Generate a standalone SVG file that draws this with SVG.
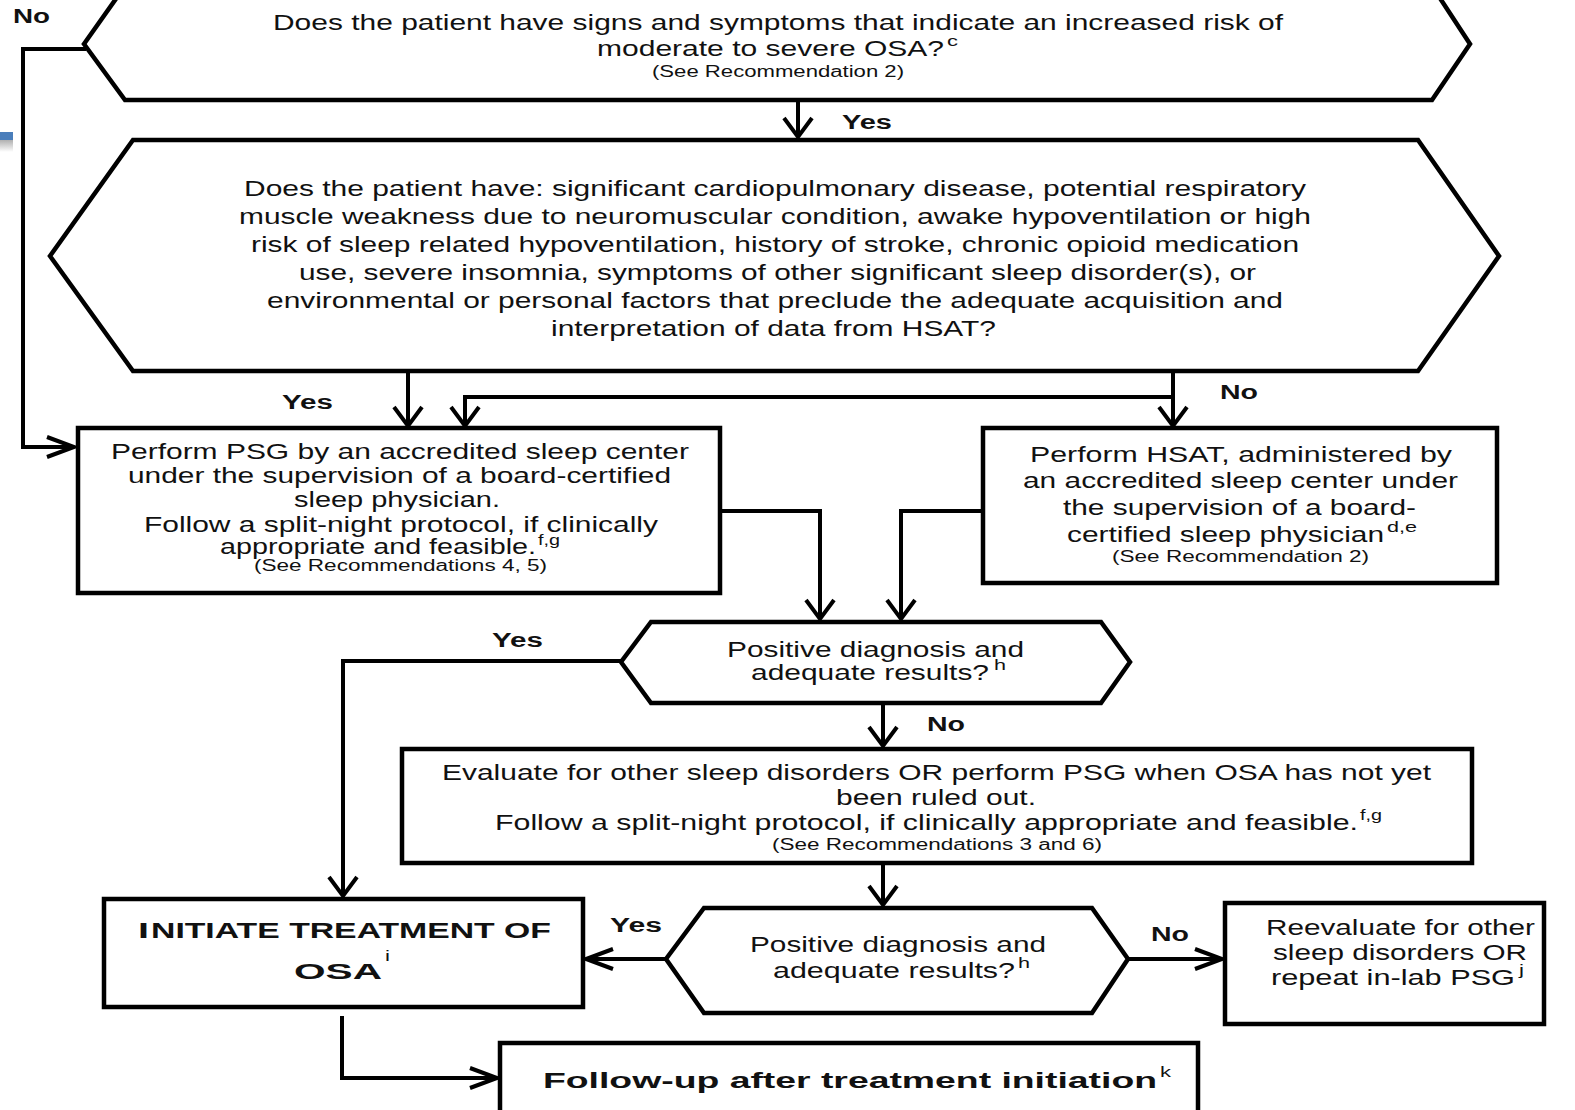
<svg xmlns="http://www.w3.org/2000/svg" width="1575" height="1110" viewBox="0 0 1575 1110">
<style>
.box{fill:#fff;stroke:#000;stroke-width:4.5;stroke-linejoin:miter}
.ln{fill:none;stroke:#000;stroke-width:4}
.t{font-family:"Liberation Sans",Arial,sans-serif;font-size:22px;fill:#111}
.s{font-size:16px}
.sup{font-size:15px}
.lbl{font-weight:bold;font-size:20px}
.b{font-weight:bold}
</style>
<defs>
<linearGradient id="gr" x1="0" y1="0" x2="0" y2="1"><stop offset="0" stop-color="#b0b0b0"/><stop offset="1" stop-color="#fff"/></linearGradient>
<marker id="av" markerUnits="userSpaceOnUse" orient="auto" refX="0" refY="0" markerWidth="40" markerHeight="40" viewBox="-35 -20 40 40" style="overflow:visible"><path d="M-19,-14 L0,0 L-19,14" fill="none" stroke="#000" stroke-width="4"/></marker>
<marker id="ah" markerUnits="userSpaceOnUse" orient="auto" refX="0" refY="0" markerWidth="40" markerHeight="40" viewBox="-35 -20 40 40" style="overflow:visible"><path d="M-27,-10 L0,0 L-27,10" fill="none" stroke="#000" stroke-width="4"/></marker>
</defs>
<rect x="0" y="0" width="1575" height="1110" fill="#fff"/>
<rect x="0" y="132" width="13" height="8" fill="#4a7ebb"/>
<rect x="0" y="140" width="13" height="12" fill="url(#gr)"/>

<g id="connectors">
<path class="ln" d="M86,49 H23 V447 H74" marker-end="url(#ah)"/>
<path class="ln" d="M798,100 V137" marker-end="url(#av)"/>
<path class="ln" d="M408,371 V426" marker-end="url(#av)"/>
<path class="ln" d="M1173,371 V426" marker-end="url(#av)"/>
<path class="ln" d="M1175,397 H465 V426" marker-end="url(#av)"/>
<path class="ln" d="M720,511 H820 V619" marker-end="url(#av)"/>
<path class="ln" d="M983,511 H901 V619" marker-end="url(#av)"/>
<path class="ln" d="M621,661 H343 V896" marker-end="url(#av)"/>
<path class="ln" d="M883,703 V746" marker-end="url(#av)"/>
<path class="ln" d="M883,863 V905" marker-end="url(#av)"/>
<path class="ln" d="M666,959 H586" marker-end="url(#ah)"/>
<path class="ln" d="M1128,959 H1222" marker-end="url(#ah)"/>
<path class="ln" d="M342,1016 V1078 H497" marker-end="url(#ah)"/>
<text class="t lbl" x="13" y="23" textLength="37" lengthAdjust="spacingAndGlyphs">No</text>
<text class="t lbl" x="842" y="129" textLength="50" lengthAdjust="spacingAndGlyphs">Yes</text>
<text class="t lbl" x="282" y="409" textLength="51" lengthAdjust="spacingAndGlyphs">Yes</text>
<text class="t lbl" x="1220" y="399" textLength="38" lengthAdjust="spacingAndGlyphs">No</text>
<text class="t lbl" x="492" y="647" textLength="51" lengthAdjust="spacingAndGlyphs">Yes</text>
<text class="t lbl" x="927" y="731" textLength="38" lengthAdjust="spacingAndGlyphs">No</text>
<text class="t lbl" x="610" y="932" textLength="52" lengthAdjust="spacingAndGlyphs">Yes</text>
<text class="t lbl" x="1151" y="941" textLength="38" lengthAdjust="spacingAndGlyphs">No</text>
</g>

<g id="q1">
<polygon class="box" points="125,-14 1432,-14 1470,44 1432,100 125,100 84,44"/>
<text class="t" x="273" y="30" textLength="1010" lengthAdjust="spacingAndGlyphs">Does the patient have signs and symptoms that indicate an increased risk of</text>
<text class="t" x="597" y="56" textLength="347" lengthAdjust="spacingAndGlyphs">moderate to severe OSA?</text>
<text class="t sup" x="947" y="46" textLength="11" lengthAdjust="spacingAndGlyphs">c</text>
<text class="t s" x="652" y="77" textLength="252" lengthAdjust="spacingAndGlyphs">(See Recommendation 2)</text>
</g>

<g id="q2">
<polygon class="box" points="133,140 1418,140 1499,256 1418,371 133,371 50,256"/>
<text class="t" x="244" y="196" textLength="1062" lengthAdjust="spacingAndGlyphs">Does the patient have: significant cardiopulmonary disease, potential respiratory</text>
<text class="t" x="239" y="224" textLength="1072" lengthAdjust="spacingAndGlyphs">muscle weakness due to neuromuscular condition, awake hypoventilation or high</text>
<text class="t" x="251" y="252" textLength="1048" lengthAdjust="spacingAndGlyphs">risk of sleep related hypoventilation, history of stroke, chronic opioid medication</text>
<text class="t" x="299" y="280" textLength="957" lengthAdjust="spacingAndGlyphs">use, severe insomnia, symptoms of other significant sleep disorder(s), or</text>
<text class="t" x="267" y="308" textLength="1016" lengthAdjust="spacingAndGlyphs">environmental or personal factors that preclude the adequate acquisition and</text>
<text class="t" x="551" y="336" textLength="445" lengthAdjust="spacingAndGlyphs">interpretation of data from HSAT?</text>
</g>

<g id="psg">
<rect class="box" x="78" y="428" width="642" height="165"/>
<text class="t" x="111" y="459" textLength="578" lengthAdjust="spacingAndGlyphs">Perform PSG by an accredited sleep center</text>
<text class="t" x="128" y="483" textLength="543" lengthAdjust="spacingAndGlyphs">under the supervision of a board-certified</text>
<text class="t" x="294" y="507" textLength="206" lengthAdjust="spacingAndGlyphs">sleep physician.</text>
<text class="t" x="144" y="532" textLength="514" lengthAdjust="spacingAndGlyphs">Follow a split-night protocol, if clinically</text>
<text class="t" x="220" y="554" textLength="316" lengthAdjust="spacingAndGlyphs">appropriate and feasible.</text>
<text class="t sup" x="538" y="545" textLength="22" lengthAdjust="spacingAndGlyphs">f,g</text>
<text class="t s" x="254" y="571" textLength="293" lengthAdjust="spacingAndGlyphs">(See Recommendations 4, 5)</text>
</g>

<g id="hsat">
<rect class="box" x="983" y="428" width="514" height="155"/>
<text class="t" x="1030" y="462" textLength="422" lengthAdjust="spacingAndGlyphs">Perform HSAT, administered by</text>
<text class="t" x="1023" y="488" textLength="435" lengthAdjust="spacingAndGlyphs">an accredited sleep center under</text>
<text class="t" x="1063" y="515" textLength="353" lengthAdjust="spacingAndGlyphs">the supervision of a board-</text>
<text class="t" x="1067" y="542" textLength="317" lengthAdjust="spacingAndGlyphs">certified sleep physician</text>
<text class="t sup" x="1387" y="532" textLength="30" lengthAdjust="spacingAndGlyphs">d,e</text>
<text class="t s" x="1112" y="562" textLength="257" lengthAdjust="spacingAndGlyphs">(See Recommendation 2)</text>
</g>

<g id="q3">
<polygon class="box" points="651,622 1101,622 1130,662 1101,703 651,703 621,662"/>
<text class="t" x="727" y="657" textLength="297" lengthAdjust="spacingAndGlyphs">Positive diagnosis and</text>
<text class="t" x="751" y="680" textLength="238" lengthAdjust="spacingAndGlyphs">adequate results?</text>
<text class="t sup" x="994" y="670" textLength="12" lengthAdjust="spacingAndGlyphs">h</text>
</g>

<g id="evaluate">
<rect class="box" x="402" y="749" width="1070" height="114"/>
<text class="t" x="442" y="780" textLength="989" lengthAdjust="spacingAndGlyphs">Evaluate for other sleep disorders OR perform PSG when OSA has not yet</text>
<text class="t" x="836" y="805" textLength="200" lengthAdjust="spacingAndGlyphs">been ruled out.</text>
<text class="t" x="495" y="830" textLength="863" lengthAdjust="spacingAndGlyphs">Follow a split-night protocol, if clinically appropriate and feasible.</text>
<text class="t sup" x="1360" y="820" textLength="22" lengthAdjust="spacingAndGlyphs">f,g</text>
<text class="t s" x="772" y="850" textLength="330" lengthAdjust="spacingAndGlyphs">(See Recommendations 3 and 6)</text>
</g>

<g id="q4">
<polygon class="box" points="704,908 1092,908 1128,959 1092,1013 704,1013 666,959"/>
<text class="t" x="750" y="952" textLength="296" lengthAdjust="spacingAndGlyphs">Positive diagnosis and</text>
<text class="t" x="773" y="978" textLength="242" lengthAdjust="spacingAndGlyphs">adequate results?</text>
<text class="t sup" x="1018" y="968" textLength="12" lengthAdjust="spacingAndGlyphs">h</text>
</g>

<g id="initiate">
<rect class="box" x="104" y="899" width="479" height="108"/>
<text class="t b" x="138" y="938" font-size="28" textLength="11" lengthAdjust="spacingAndGlyphs">I</text>
<text class="t b" x="151" y="938" font-size="21" textLength="400" lengthAdjust="spacingAndGlyphs">NITIATE TREATMENT OF</text>
<text class="t b" x="294" y="979" font-size="29" textLength="88" lengthAdjust="spacingAndGlyphs">OSA</text>
<text class="t sup" x="385" y="961" font-size="13" textLength="5" lengthAdjust="spacingAndGlyphs">i</text>
</g>

<g id="reevaluate">
<rect class="box" x="1225" y="903" width="319" height="121"/>
<text class="t" x="1266" y="935" textLength="269" lengthAdjust="spacingAndGlyphs">Reevaluate for other</text>
<text class="t" x="1273" y="960" textLength="254" lengthAdjust="spacingAndGlyphs">sleep disorders OR</text>
<text class="t" x="1271" y="985" textLength="244" lengthAdjust="spacingAndGlyphs">repeat in-lab PSG</text>
<text class="t sup" x="1519" y="975" textLength="5" lengthAdjust="spacingAndGlyphs">j</text>
</g>

<g id="followup">
<rect class="box" x="500" y="1043" width="698" height="90"/>
<text class="t b" x="543" y="1088" font-size="27" textLength="614" lengthAdjust="spacingAndGlyphs">Follow-up after treatment initiation</text>
<text class="t sup" x="1160" y="1077" textLength="11" lengthAdjust="spacingAndGlyphs">k</text>
</g>
</svg>
